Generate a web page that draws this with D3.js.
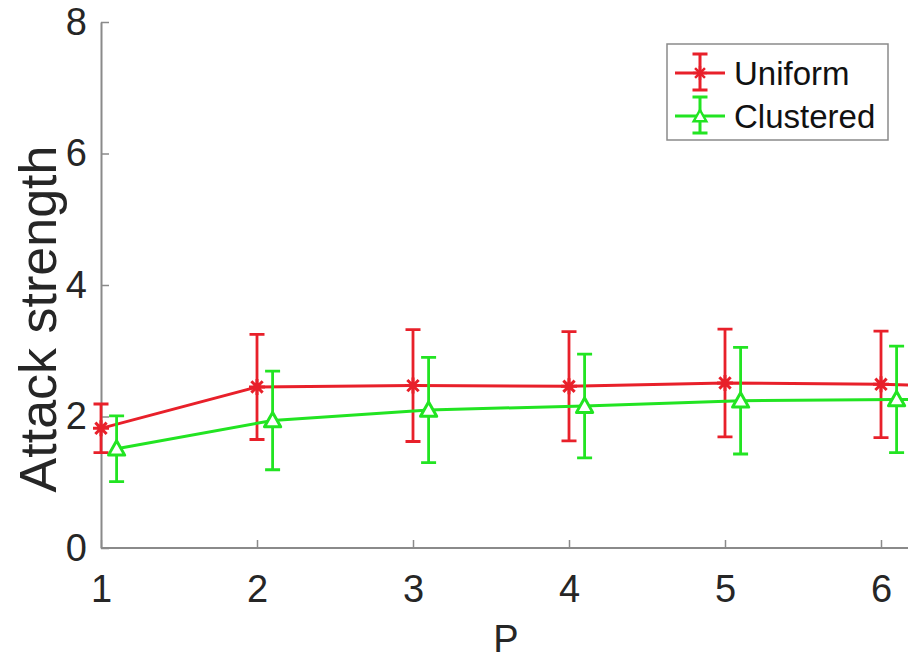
<!DOCTYPE html>
<html><head><meta charset="utf-8">
<script src="https://cdn.jsdelivr.net/npm/d3@7"></script>
<style>
html,body{margin:0;padding:0;background:#fff;}
svg{display:block;font-family:"Liberation Sans",Arial,sans-serif;}
</style></head>
<body>
<svg id="chart" width="908" height="661"></svg>
<script>
// ---- data ----
const P = [1, 2, 3, 4, 5, 6, 7];
const xTicks = [1, 2, 3, 4, 5, 6];
const yTicks = [0, 2, 4, 6, 8];
const uniformMean = [1.82, 2.45, 2.47, 2.46, 2.51, 2.49, 2.42];
const uniformErr  = [0.37, 0.80, 0.85, 0.83, 0.82, 0.81, 0.81];
const clusteredMean = [1.51, 1.94, 2.10, 2.16, 2.24, 2.26, 2.26];
const clusteredErr  = [0.50, 0.75, 0.80, 0.79, 0.81, 0.81, 0.81];
const clusteredOffset = 0.1;
const seriesNames = ["Uniform", "Clustered"];
const colors = ["#e8202a", "#22e422"];

const svg = d3.select("#chart");
const W = 908, H = 661;
const x = d3.scaleLinear().domain([1, 7]).range([101, 1037]);
const y = d3.scaleLinear().domain([0, 8]).range([548, 22]);
const axisColor = "#8a8a8a", textColor = "#262626";

svg.append("defs").append("clipPath").attr("id","clip")
  .append("rect").attr("x",0).attr("y",0).attr("width",W).attr("height",H);

// axes (box off, ticks inward)
const gx = svg.append("g").attr("transform",`translate(0,${y(0)})`)
  .call(d3.axisBottom(x).tickValues(xTicks).tickFormat(d3.format("d")).tickSizeInner(-8).tickSizeOuter(0).tickPadding(27));
const gy = svg.append("g").attr("transform",`translate(${x(1)},0)`)
  .call(d3.axisLeft(y).tickValues(yTicks).tickFormat(d3.format("d")).tickSizeInner(-8).tickSizeOuter(0).tickPadding(14));
[gx, gy].forEach(g => {
  g.select(".domain").attr("stroke", axisColor).attr("stroke-width", 2);
  g.selectAll(".tick line").attr("stroke", axisColor).attr("stroke-width", 1.5);
  g.selectAll(".tick text").attr("fill", textColor).attr("font-size", 38).attr("font-family","Liberation Sans, Arial, sans-serif");
});
gx.select(".domain").attr("d", `M${x(1)},0H${W+5}`);
gx.selectAll(".tick text").attr("dy", "0.71em");

// labels
svg.append("text").attr("x", 506).attr("y", 652)
  .attr("text-anchor","middle").attr("font-size",38).attr("fill",textColor).text("P");
svg.append("text").attr("transform",`translate(56,319) rotate(-90)`)
  .attr("text-anchor","middle").attr("font-size",52).attr("fill",textColor).text("Attack strength");

const plot = svg.append("g").attr("clip-path","url(#clip)");

function asterisk(cx, cy, r){
  const d = r*0.7071;
  return `M${cx-r},${cy}H${cx+r}M${cx},${cy-r}V${cy+r}M${cx-d},${cy-d}L${cx+d},${cy+d}M${cx-d},${cy+d}L${cx+d},${cy-d}`;
}
function triangle(cx, cy, r){
  return `M${cx},${cy-r}L${cx+r*0.9},${cy+r*0.6}L${cx-r*0.9},${cy+r*0.6}Z`;
}

const series = [
  {mean: uniformMean, err: uniformErr, off: 0, color: colors[0], marker: "ast"},
  {mean: clusteredMean, err: clusteredErr, off: clusteredOffset, color: colors[1], marker: "tri"}
];
const capW = 7.5;
series.forEach(s => {
  const g = plot.append("g");
  const pts = P.map((p,i) => ({x: p + s.off, m: s.mean[i], e: s.err[i]}));
  g.append("path").datum(pts)
    .attr("d", d3.line().x(d => x(d.x)).y(d => y(d.m)))
    .attr("fill","none").attr("stroke", s.color).attr("stroke-width", 3);
  const eb = g.selectAll(".eb").data(pts).enter().append("g");
  eb.append("path").attr("d", d => {
      const cx = x(d.x), t = y(d.m + d.e), b = y(d.m - d.e);
      return `M${cx},${t}V${b}M${cx-capW},${t}H${cx+capW}M${cx-capW},${b}H${cx+capW}`;
    }).attr("stroke", s.color).attr("stroke-width", 2.8).attr("fill","none");
  eb.append("path").attr("d", d => s.marker === "ast" ? asterisk(x(d.x), y(d.m), 8) : triangle(x(d.x), y(d.m)+1, 9))
    .attr("stroke", s.color).attr("stroke-width", 3).attr("fill", s.marker === "tri" ? "#ffffff" : "none")
    .attr("stroke-linejoin","round");
});

// legend
const lg = svg.append("g");
lg.append("rect").attr("x",667).attr("y",44).attr("width",221).attr("height",96)
  .attr("fill","#fff").attr("stroke","#8a8a8a").attr("stroke-width",1.5);
seriesNames.forEach((name,i) => {
  const cy = i === 0 ? 73 : 116;
  const s = series[i];
  lg.append("path").attr("d", `M675,${cy}H725M700,${cy-19}V${cy+17}M${700-capW},${cy-19}H${700+capW}M${700-capW},${cy+17}H${700+capW}`)
    .attr("stroke", s.color).attr("stroke-width", 3).attr("fill","none");
  lg.append("path").attr("d", s.marker === "ast" ? asterisk(700, cy, 7) : triangle(700, cy+1, 7))
    .attr("stroke", s.color).attr("stroke-width", 2.5).attr("fill", s.marker === "tri" ? "#fff" : "none");
  lg.append("text").attr("x",734).attr("y",cy+12).attr("font-size",33).attr("fill","#111").text(name);
});
</script>
</body></html>
